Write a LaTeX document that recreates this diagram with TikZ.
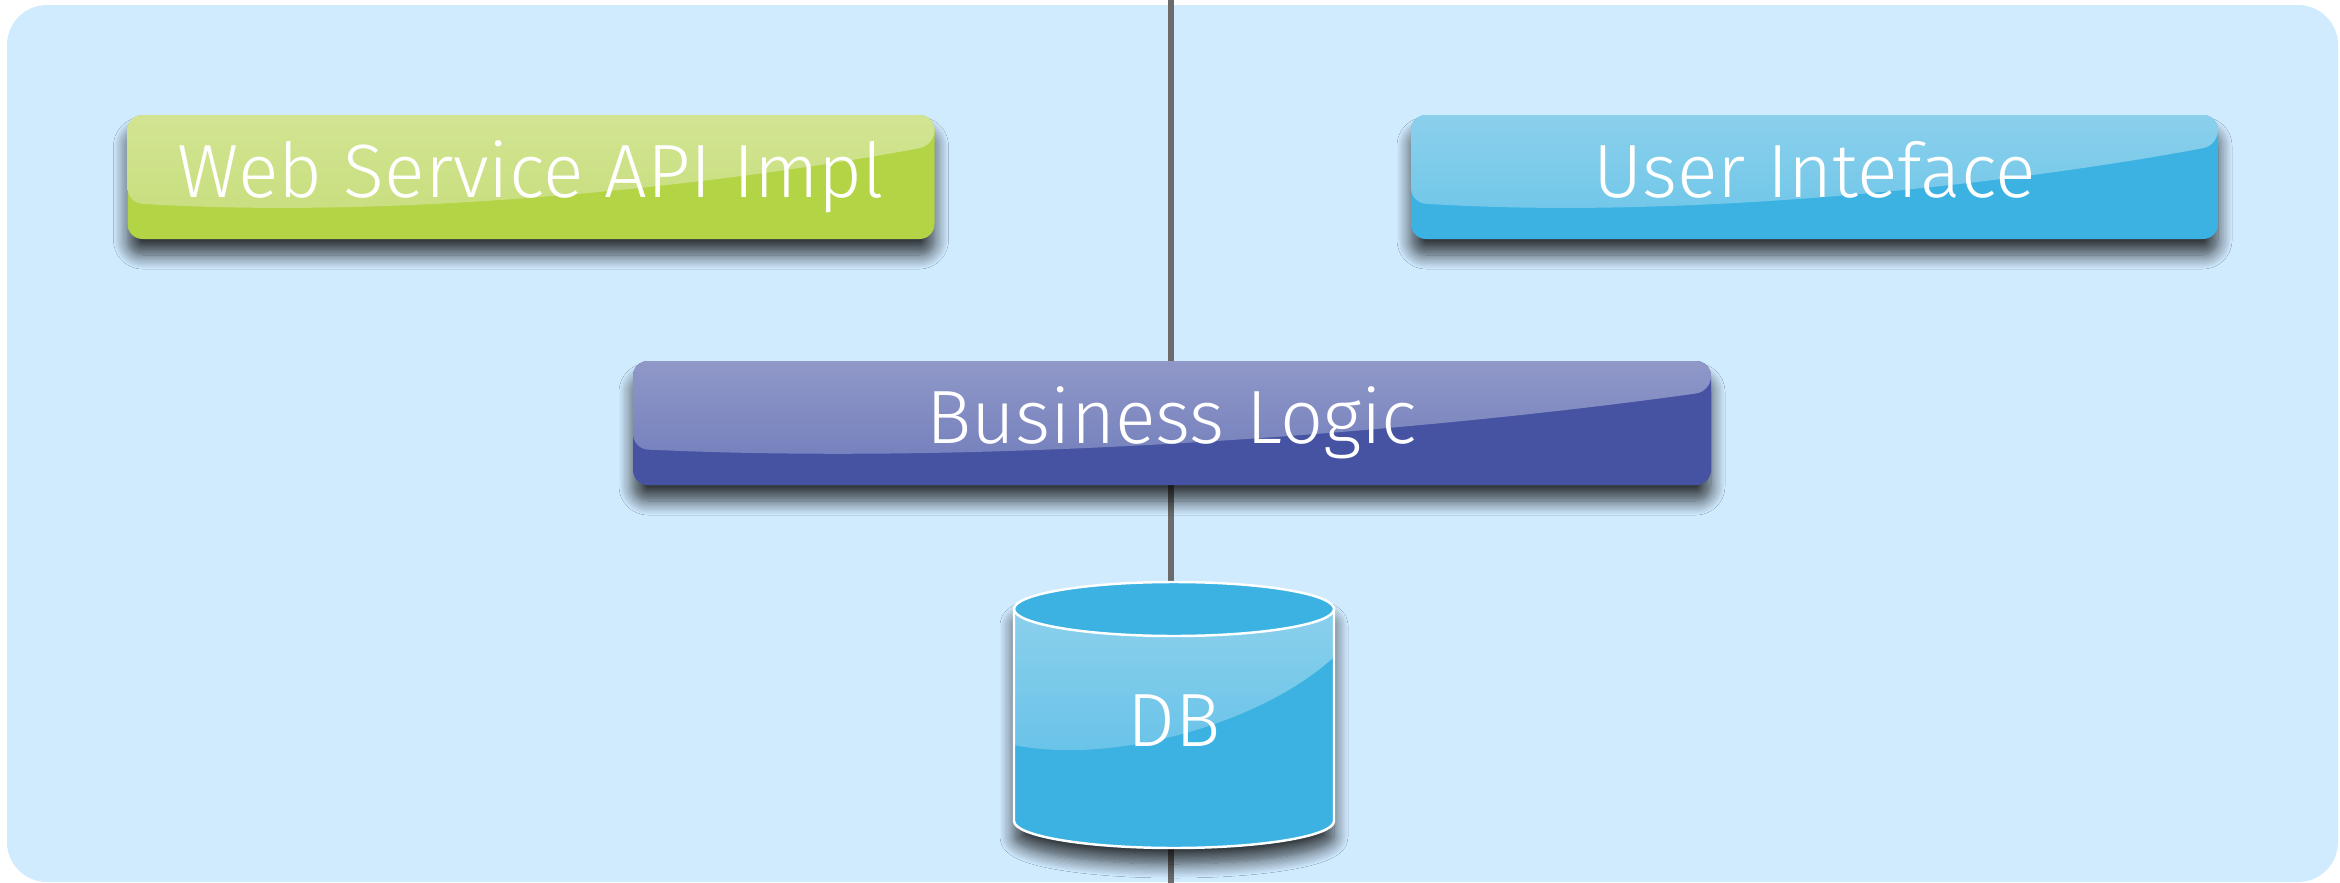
\documentclass[tikz,border=0pt]{standalone}
\usepackage{fontspec}
\setmainfont{Fira Sans}[UprightFont={* Light}]
\usetikzlibrary{calc,shadows.blur}

\definecolor{bgblue}{HTML}{D0EAFE}
\definecolor{divgray}{HTML}{6B6B6B}
\definecolor{wsgreen}{HTML}{B3D445}
\definecolor{wsgreenhi}{HTML}{D2E492}
\definecolor{wsgreenlo}{HTML}{C6DD7A}
\definecolor{uiblue}{HTML}{3BB2E2}
\definecolor{uibluehi}{HTML}{8BD0EC}
\definecolor{uibluelo}{HTML}{6AC4E8}
\definecolor{blpurple}{HTML}{4653A2}
\definecolor{blpurplehi}{HTML}{9098C8}
\definecolor{blpurplelo}{HTML}{6E7BBA}
\definecolor{dbblue}{HTML}{3BB2E2}
\definecolor{dbbluehi}{HTML}{8BD0EC}
\definecolor{dbbluelo}{HTML}{66C2E8}

\newcommand\labelfont{\fontsize{21.5}{26}\selectfont}

\tikzset{
  softshadow/.style={blur shadow={shadow xshift=0cm, shadow yshift=-0.16cm,
      shadow blur radius=0.14cm, shadow opacity=75, shadow blur steps=12}},
  layerbox/.style={rounded corners=0.15cm, minimum width=#1, minimum height=1.24cm,
      inner sep=0pt, text=white, font=\labelfont, text height=0.5cm, text depth=0.1cm,
      softshadow},
  % glossy highlight over the upper part of a box
  gloss/.style n args={3}{fill=#1, path picture={
      \shade[top color=#2, bottom color=#3]
        let \p1=(path picture bounding box.north west),
            \p2=(path picture bounding box.south east) in
        (\x1,\y1) -- (\x2,\y1) -- (\x2,{\y1+0.245*(\y2-\y1)})
        .. controls ({\x1+0.75*(\x2-\x1)},{\y1+0.55*(\y2-\y1)})
           and ({\x1+0.35*(\x2-\x1)},{\y1+0.85*(\y2-\y1)}) ..
        (\x1,{\y1+0.709*(\y2-\y1)}) -- cycle;}},
  divider/.style={draw=divgray, line width=0.06cm},
  dblabel/.style={text=white, font=\labelfont, text height=0.5cm, text depth=0.1cm, inner sep=0pt},
}

\begin{document}
\begin{tikzpicture}
\useasboundingbox (0,0) rectangle (23.4,-8.83);

% panel
\fill[bgblue, rounded corners=0.4cm] (0.07,-0.05) rectangle (23.38,-8.82);

% vertical divider
\coordinate (divtop) at (11.71,0);
\coordinate (divbot) at (11.71,-8.83);
\draw[divider] (divtop) -- (divbot);

% layers
\node[layerbox=8.07cm, gloss={wsgreen}{wsgreenhi}{wsgreenlo}] (ws) at (5.31,-1.77) {Web Service API Impl};
\node[layerbox=8.07cm, gloss={uiblue}{uibluehi}{uibluelo}] (ui) at (18.145,-1.77) {User Inteface};
\node[layerbox=10.78cm, gloss={blpurple}{blpurplehi}{blpurplelo}] (bl) at (11.72,-4.23) {Business Logic};

% database cylinder
\fill[dbblue, softshadow]
  (10.14,-6.09) -- (10.14,-8.21) arc[start angle=180, end angle=360, x radius=1.6cm, y radius=0.27cm]
  -- (13.34,-6.09) arc[start angle=0, end angle=180, x radius=1.6cm, y radius=0.27cm] -- cycle;
\shade[top color=dbbluehi, bottom color=dbbluelo]
  (10.14,-6.09) -- (10.14,-7.45) .. controls (11.10,-7.65) and (12.60,-7.25) .. (13.34,-6.57)
  -- (13.34,-6.09) -- cycle;
\draw[white, line width=0.7pt]
  (10.14,-6.09) -- (10.14,-8.21) arc[start angle=180, end angle=360, x radius=1.6cm, y radius=0.27cm]
  -- (13.34,-6.09);
\filldraw[fill=dbblue, draw=white, line width=0.7pt] (11.74,-6.09) ellipse[x radius=1.6cm, y radius=0.27cm];
\node[dblabel] (db) at (11.74,-7.26) {DB};
\end{tikzpicture}
\end{document}
